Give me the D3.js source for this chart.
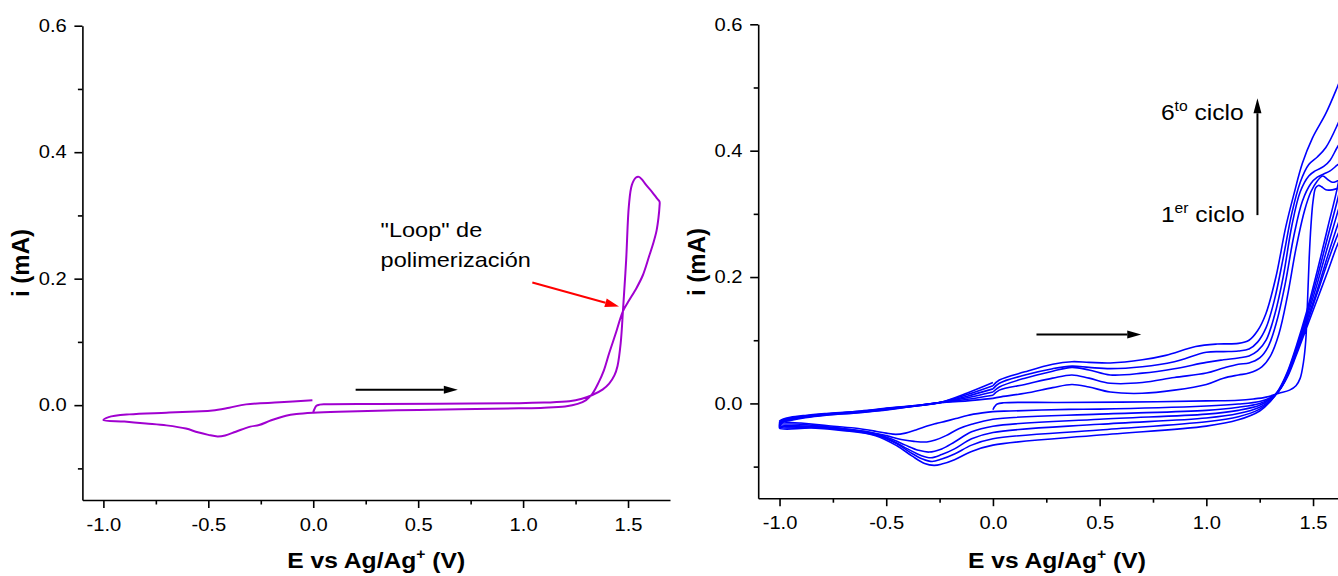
<!DOCTYPE html>
<html>
<head>
<meta charset="utf-8">
<script src="https://cdn.jsdelivr.net/npm/d3@7"></script>
<style>
body { margin: 0; background: #fff; }
text { font-family: "Liberation Sans", Arial, sans-serif; }
</style>
</head>
<body>
<script>
// axis ticks
const xTicks = [-1.0, -0.5, 0.0, 0.5, 1.0, 1.5]
const xMinor = [-0.75, -0.25, 0.25, 0.75, 1.25]
const yTicks = [0.0, 0.2, 0.4, 0.6]
const yMinor = [-0.1, 0.1, 0.3, 0.5]

// left panel: single scan [E (V), i (mA)]
const polyScan = [
  [0.000,-0.0105],[0.006,-0.006],[0.015,-0.001],[0.03,0.0008],[0.06,0.0014],[0.3,0.0018],[0.6,0.0022],[0.98,0.003],
  [1.10,0.004],[1.22,0.006],[1.28,0.010],[1.33,0.016],[1.38,0.025],[1.41,0.034],[1.435,0.047],[1.45,0.062],
  [1.465,0.098],[1.476,0.150],[1.491,0.229],[1.504,0.315],[1.518,0.348],[1.538,0.360],[1.552,0.361],[1.566,0.357],
  [1.584,0.349],[1.615,0.337],[1.640,0.326],[1.650,0.322],
  [1.650,0.314],[1.645,0.296],[1.636,0.276],[1.622,0.258],[1.60,0.235],[1.57,0.205],[1.54,0.185],[1.50,0.163],
  [1.475,0.148],[1.44,0.112],[1.41,0.082],[1.385,0.055],[1.36,0.036],[1.33,0.018],[1.30,0.008],[1.26,0.002],
  [1.20,-0.002],[1.10,-0.004],[0.98,-0.005],[0.5,-0.0075],[0.12,-0.0104],[0.0,-0.012],[-0.08,-0.014],[-0.13,-0.0167],
  [-0.2,-0.024],[-0.258,-0.0315],[-0.30,-0.034],[-0.369,-0.042],[-0.42,-0.048],[-0.456,-0.0495],[-0.50,-0.047],
  [-0.55,-0.043],[-0.607,-0.037],[-0.70,-0.032],[-0.797,-0.029],[-0.90,-0.026],[-1.0,-0.0236],
  [-0.975,-0.019],[-0.877,-0.0146],[-0.7,-0.012],[-0.56,-0.010],[-0.48,-0.0085],[-0.40,-0.004],[-0.32,0.0012],
  [-0.16,0.0044],[-0.004,0.0076]
]

// right panel: six cycles [E (V), i (mA)]
const cycle1 = [
  [0.0,-0.010],[0.008,-0.005],[0.02,-0.001],[0.05,0.001],[0.3,0.0015],[0.6,0.002],[1.0,0.004],[1.15,0.005],
  [1.22,0.007],[1.28,0.010],[1.34,0.016],[1.39,0.021],[1.42,0.028],[1.44,0.040],[1.455,0.065],[1.466,0.10],
  [1.474,0.16],[1.482,0.23],[1.49,0.28],[1.50,0.32],[1.512,0.341],[1.525,0.345],[1.54,0.343],[1.56,0.338],
  [1.59,0.338],[1.613,0.340],[1.65,0.345],[1.70,0.35],
  [1.69,0.33],[1.67,0.30],[1.64,0.27],[1.613,0.25],[1.57,0.21],[1.52,0.165],[1.47,0.12],[1.42,0.075],
  [1.38,0.042],[1.34,0.020],[1.30,0.009],[1.25,0.003],[1.15,-0.001],[1.0,-0.004],[0.5,-0.009],[0.357,-0.0095],
  [0.08,-0.012],[0.0,-0.013],[-0.05,-0.015],[-0.12,-0.019],[-0.174,-0.024],[-0.22,-0.028],[-0.268,-0.032],
  [-0.30,-0.035],[-0.361,-0.042],[-0.41,-0.047],[-0.455,-0.049],[-0.50,-0.047],[-0.55,-0.044],[-0.65,-0.039],
  [-0.78,-0.035],[-0.9,-0.031],[-1.0,-0.028],
  [-0.985,-0.025],[-0.95,-0.022],[-0.88,-0.019],[-0.78,-0.016],[-0.62,-0.012],[-0.47,-0.0065],[-0.35,-0.003],
  [-0.244,0.0015],[-0.12,0.004],[0.0,0.008]
]
const cycle2 = [
  [0.0,0.008],[0.03,0.010],[0.15,0.016],[0.28,0.025],[0.37,0.030],[0.45,0.026],[0.55,0.018],[0.7,0.016],
  [0.85,0.021],[1.0,0.030],[1.08,0.040],[1.15,0.045],[1.2,0.048],[1.26,0.058],[1.30,0.075],[1.34,0.11],
  [1.38,0.17],[1.42,0.245],[1.46,0.305],[1.49,0.335],[1.52,0.352],[1.545,0.36],[1.57,0.354],[1.59,0.35],
  [1.613,0.352],[1.66,0.36],[1.70,0.37],
  [1.69,0.345],[1.67,0.315],[1.64,0.285],[1.613,0.265],[1.57,0.225],[1.52,0.175],[1.47,0.125],[1.42,0.078],
  [1.38,0.044],[1.34,0.020],[1.30,0.008],[1.25,0.0],[1.15,-0.006],[1.0,-0.011],[0.5,-0.017],[0.0,-0.025],
  [-0.1,-0.033],[-0.16,-0.040],[-0.22,-0.051],[-0.27,-0.058],[-0.31,-0.061],[-0.37,-0.060],[-0.43,-0.057],
  [-0.50,-0.051],[-0.6,-0.044],[-0.75,-0.038],[-0.9,-0.033],[-1.0,-0.031],
  [-0.985,-0.026],[-0.95,-0.023],[-0.88,-0.020],[-0.78,-0.0165],[-0.62,-0.0125],[-0.47,-0.007],[-0.35,-0.003],
  [-0.244,0.0015],[-0.12,0.0065],[0.0,0.013]
]
const cycle3 = [
  [0.0,0.013],[0.03,0.021],[0.15,0.030],[0.28,0.040],[0.37,0.045],[0.45,0.040],[0.55,0.032],[0.7,0.033],
  [0.85,0.041],[1.0,0.048],[1.08,0.056],[1.15,0.062],[1.2,0.064],[1.25,0.072],[1.29,0.09],[1.33,0.13],
  [1.37,0.19],[1.41,0.265],[1.45,0.32],[1.49,0.348],[1.52,0.358],[1.55,0.363],[1.58,0.368],[1.613,0.377],
  [1.66,0.39],[1.70,0.40],
  [1.69,0.37],[1.67,0.34],[1.64,0.305],[1.613,0.28],[1.57,0.235],[1.52,0.18],[1.47,0.13],[1.42,0.08],
  [1.38,0.045],[1.34,0.020],[1.30,0.007],[1.25,-0.003],[1.15,-0.011],[1.0,-0.017],[0.5,-0.025],[0.0,-0.036],
  [-0.1,-0.045],[-0.18,-0.061],[-0.24,-0.072],[-0.30,-0.077],[-0.35,-0.074],[-0.41,-0.066],[-0.47,-0.057],
  [-0.55,-0.048],[-0.7,-0.040],[-0.85,-0.036],[-1.0,-0.033],
  [-0.985,-0.027],[-0.95,-0.024],[-0.88,-0.021],[-0.78,-0.017],[-0.62,-0.013],[-0.47,-0.0075],[-0.35,-0.0032],
  [-0.244,0.0016],[-0.12,0.009],[0.0,0.018]
]
const cycle4 = [
  [0.0,0.018],[0.03,0.026],[0.15,0.040],[0.28,0.051],[0.37,0.057],[0.45,0.053],[0.55,0.045],[0.7,0.048],
  [0.85,0.055],[1.0,0.065],[1.08,0.069],[1.15,0.072],[1.2,0.075],[1.24,0.083],[1.28,0.10],[1.32,0.14],
  [1.36,0.20],[1.40,0.28],[1.44,0.335],[1.48,0.36],[1.51,0.368],[1.55,0.375],[1.58,0.385],[1.613,0.405],
  [1.66,0.43],[1.70,0.45],
  [1.69,0.41],[1.67,0.37],[1.64,0.33],[1.613,0.30],[1.57,0.25],[1.52,0.19],[1.47,0.135],[1.42,0.083],
  [1.38,0.046],[1.34,0.020],[1.30,0.005],[1.25,-0.006],[1.15,-0.016],[1.0,-0.023],[0.5,-0.033],[0.0,-0.046],
  [-0.1,-0.056],[-0.18,-0.072],[-0.24,-0.081],[-0.29,-0.086],[-0.34,-0.082],[-0.40,-0.072],[-0.46,-0.061],
  [-0.55,-0.049],[-0.7,-0.041],[-0.85,-0.037],[-1.0,-0.035],
  [-0.985,-0.028],[-0.95,-0.025],[-0.88,-0.0215],[-0.78,-0.0175],[-0.62,-0.0135],[-0.47,-0.008],[-0.35,-0.0034],
  [-0.244,0.0016],[-0.12,0.0115],[0.0,0.023]
]
const cycle5 = [
  [0.0,0.023],[0.03,0.032],[0.15,0.045],[0.28,0.055],[0.37,0.059],[0.45,0.057],[0.55,0.055],[0.7,0.058],
  [0.85,0.066],[1.0,0.081],[1.08,0.082],[1.15,0.083],[1.2,0.086],[1.24,0.097],[1.28,0.12],[1.32,0.165],
  [1.36,0.23],[1.40,0.30],[1.44,0.35],[1.48,0.378],[1.52,0.39],[1.56,0.405],[1.613,0.44],[1.66,0.48],[1.70,0.51],
  [1.69,0.46],[1.67,0.41],[1.64,0.36],[1.613,0.32],[1.57,0.265],[1.52,0.20],[1.47,0.14],[1.42,0.086],
  [1.38,0.048],[1.34,0.021],[1.30,0.004],[1.25,-0.009],[1.15,-0.021],[1.0,-0.029],[0.5,-0.042],[0.0,-0.056],
  [-0.1,-0.066],[-0.18,-0.080],[-0.24,-0.088],[-0.285,-0.092],[-0.33,-0.088],[-0.39,-0.077],[-0.45,-0.064],
  [-0.55,-0.050],[-0.7,-0.042],[-0.85,-0.038],[-1.0,-0.037],
  [-0.985,-0.029],[-0.95,-0.026],[-0.88,-0.022],[-0.78,-0.018],[-0.62,-0.014],[-0.47,-0.0085],[-0.35,-0.0036],
  [-0.244,0.0017],[-0.12,0.014],[0.0,0.028]
]
const cycle6 = [
  [0.0,0.028],[0.03,0.037],[0.15,0.050],[0.28,0.062],[0.37,0.066],[0.45,0.065],[0.55,0.064],[0.7,0.069],
  [0.81,0.076],[0.95,0.090],[1.05,0.094],[1.15,0.095],[1.2,0.100],[1.24,0.115],[1.279,0.142],[1.326,0.200],
  [1.372,0.279],[1.411,0.332],[1.45,0.38],[1.497,0.42],[1.56,0.459],[1.613,0.50],[1.66,0.54],[1.70,0.57],
  [1.69,0.51],[1.67,0.45],[1.64,0.39],[1.613,0.34],[1.57,0.28],[1.52,0.21],[1.47,0.145],[1.42,0.089],
  [1.38,0.05],[1.34,0.022],[1.30,0.003],[1.25,-0.012],[1.15,-0.026],[1.0,-0.036],[0.5,-0.050],[0.0,-0.066],
  [-0.1,-0.076],[-0.18,-0.089],[-0.24,-0.096],[-0.276,-0.098],[-0.32,-0.095],[-0.38,-0.083],[-0.45,-0.067],
  [-0.55,-0.051],[-0.7,-0.043],[-0.85,-0.039],[-1.0,-0.039],
  [-0.985,-0.030],[-0.95,-0.027],[-0.88,-0.0225],[-0.78,-0.0185],[-0.62,-0.0145],[-0.47,-0.009],[-0.35,-0.0038],
  [-0.244,0.0018],[-0.12,0.0165],[0.0,0.033]
]
const cycles = [cycle1, cycle2, cycle3, cycle4, cycle5, cycle6]

const W = 1338, H = 576
const stretch = 1.12   // reference text is a bit wider than the font

const svg = d3.select("body").append("svg")
  .attr("width", W)
  .attr("height", H)

function drawAxes(x, y) {
  const xb = y.range()[0]
  const yb = x.range()[0]

  // minor ticks
  svg.append("g")
    .attr("transform", `translate(0,${xb})`)
    .call(d3.axisBottom(x).tickValues(xMinor).tickSize(4.5).tickSizeOuter(0).tickFormat(""))
    .call(g => g.select(".domain").remove())
  svg.append("g")
    .attr("transform", `translate(${yb},0)`)
    .call(d3.axisLeft(y).tickValues(yMinor).tickSize(4.5).tickSizeOuter(0).tickFormat(""))
    .call(g => g.select(".domain").remove())

  // major ticks + labels
  const xa = svg.append("g")
    .attr("transform", `translate(0,${xb})`)
    .call(d3.axisBottom(x).tickValues(xTicks).tickSize(8).tickPadding(10).tickSizeOuter(0)
      .tickFormat(d => d.toFixed(1)))
  xa.selectAll(".tick text").attr("transform", `scale(${stretch},1)`)

  const ya = svg.append("g")
    .attr("transform", `translate(${yb},0)`)
    .call(d3.axisLeft(y).tickValues(yTicks).tickSize(8).tickPadding(6).tickSizeOuter(0)
      .tickFormat(d => d.toFixed(1)))
  ya.selectAll(".tick text").attr("transform", `scale(${stretch},1)`)

  svg.selectAll(".tick line, .domain")
    .attr("stroke", "#000")
    .attr("stroke-width", 1.6)
  svg.selectAll(".tick text")
    .attr("fill", "#000")
    .style("font-size", "18px")
    .style("font-family", '"Liberation Sans", Arial, sans-serif')
}

function axisTitles(x, ytx, ycy) {
  const cx = (x.range()[0] + x.range()[1]) / 2
  const t = svg.append("text")
    .attr("transform", `translate(${cx},568) scale(${stretch},1)`)
    .attr("text-anchor", "middle")
    .style("font-size", "22px")
    .style("font-weight", "bold")
  t.append("tspan").text("E vs Ag/Ag")
  t.append("tspan").text("+").style("font-size", "14px").attr("dy", -9)
  t.append("tspan").text(" (V)").attr("dy", 9)

  svg.append("text")
    .attr("transform", `translate(${ytx},${ycy}) rotate(-90)`)
    .attr("text-anchor", "middle")
    .style("font-size", "24px")
    .style("font-weight", "bold")
    .text("i (mA)")
}

function arrow(x1, y1, x2, y2, color, w, len, half) {
  const a = Math.atan2(y2 - y1, x2 - x1)
  const bx = x2 - len * Math.cos(a), by = y2 - len * Math.sin(a)
  svg.append("line")
    .attr("x1", x1).attr("y1", y1).attr("x2", bx).attr("y2", by)
    .attr("stroke", color).attr("stroke-width", w)
  const px = -Math.sin(a) * half, py = Math.cos(a) * half
  svg.append("path")
    .attr("d", `M${x2},${y2}L${bx + px},${by + py}L${bx - px},${by - py}Z`)
    .attr("fill", color)
}

const line = (x, y) => d3.line()
  .x(d => x(d[0]))
  .y(d => y(d[1]))
  .curve(d3.curveCatmullRom.alpha(0.5))

// ---------- left panel ----------
const lx = d3.scaleLinear().domain([-1.1, 1.7]).range([82.4, 670])
const ly = d3.scaleLinear().domain([-0.15, 0.6]).range([500, 25.7])

svg.append("path")
  .datum(polyScan)
  .attr("d", line(lx, ly))
  .attr("fill", "none")
  .attr("stroke", "#A000D0")
  .attr("stroke-width", 2)

drawAxes(lx, ly)
axisTitles(lx, 29, 263)

arrow(lx(0.202), ly(0.0244), lx(0.689), ly(0.0244), "#000", 2, 14, 4)
arrow(lx(1.044), ly(0.194), lx(1.457), ly(0.156), "#FF0000", 2, 14, 4.5)

const loopText = svg.append("g")
  .style("font-size", "21px")
loopText.append("text")
  .attr("transform", `translate(${lx(0.321)},${ly(0.266)}) scale(${stretch},1)`)
  .text("\"Loop\" de")
loopText.append("text")
  .attr("transform", `translate(${lx(0.321)},${ly(0.219)}) scale(${stretch},1)`)
  .text("polimerización")

// ---------- right panel ----------
const rx = d3.scaleLinear().domain([-1.1, 1.7]).range([758.2, 758.2 + 2.8 * 213.4])
const ry = d3.scaleLinear().domain([-0.15, 0.6]).range([498.2, 24.3])

svg.append("g")
  .selectAll("path")
  .data(cycles)
  .enter().append("path")
    .attr("d", line(rx, ry))
    .attr("fill", "none")
    .attr("stroke", "#0000FF")
    .attr("stroke-width", 1.6)

drawAxes(rx, ry)
axisTitles(rx, 705, 262)

arrow(rx(0.204), ry(0.109), rx(0.695), ry(0.109), "#000", 2, 14, 4)
arrow(rx(1.2395), ry(0.298), rx(1.2395), ry(0.483), "#000", 2, 15, 4)

function ciclo(n, sup, yv) {
  const t = svg.append("text")
    .attr("transform", `translate(${rx(0.787)},${ry(yv)}) scale(${stretch},1)`)
    .style("font-size", "22px")
  t.append("tspan").text(n)
  t.append("tspan").text(sup).style("font-size", "14px").attr("dy", -9)
  t.append("tspan").text(" ciclo").attr("dy", 9)
}
ciclo("6", "to", 0.449)
ciclo("1", "er", 0.287)
</script>
</body>
</html>
